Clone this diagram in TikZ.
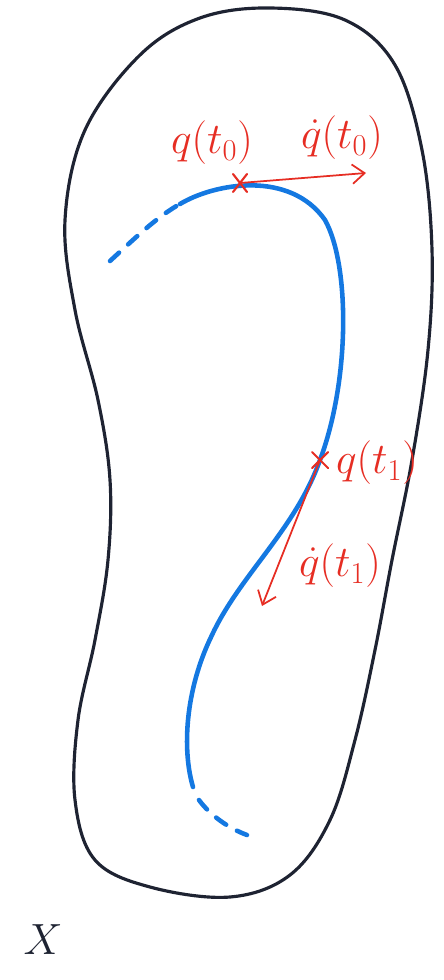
\documentclass[tikz,border=0pt]{standalone}
\usepackage{amsmath,amssymb}
\usetikzlibrary{arrows.meta,positioning}

\definecolor{curveblue}{RGB}{20,120,225}
\definecolor{penred}{RGB}{230,45,35}
\definecolor{inkdark}{RGB}{30,35,50}

\tikzset{
  outline/.style={inkdark,line width=1.8pt,line join=round},
  curve/.style={curveblue,line width=2.6pt,line cap=round},
  dashcurve/.style={curve,dash pattern=on 7pt off 7pt},
  vec/.style={penred,line width=1pt,-{Straight Barb[length=7pt,width=11pt]}},
  crossmark/.style={penred,line width=1.2pt,line cap=round},
  lbl/.style={penred,inner sep=1pt,font=\fontsize{23}{26}\selectfont}
}

\begin{document}
\begin{tikzpicture}[x=0.02cm,y=-0.02cm]
        \useasboundingbox (0,0) rectangle (443,980);
        % the region X
        \draw[outline] plot[smooth cycle,tension=0.6] coordinates {
          (270,8) (345,20) (395,65) (422,150) (432,250)
          (428,350) (412,460) (392,560) (375,650)
          (355,740) (330,820) (290,875) (230,897)
          (150,887) (95,860) (75,800) (78,720)
          (95,640) (108,560) (110,480) (98,400)
          (75,310) (65,220) (85,130) (140,55) (200,18)};
        % the path q
        \draw[dashcurve] (110,261) .. controls (135,238) and (158,216) .. (180,204);
        \draw[curve] (180,204) .. controls (215,183) and (290,170) .. (325,220)
          .. controls (350,265) and (350,380) .. (320,460)
          .. controls (295,530) and (240,575) .. (212,635)
          .. controls (185,690) and (182,750) .. (193,787);
        \draw[dashcurve] (199,800) .. controls (210,815) and (228,828) .. (247,835);
        % points and velocities
        \coordinate (q0) at (240,183);
        \coordinate (q1) at (320,460);
        \draw[crossmark] (q0) +(-7,-9) -- +(7,9) (q0) +(7,-9) -- +(-7,9);
        \draw[crossmark] (q1) +(-8,-8) -- +(8,8) (q1) +(8,-8) -- +(-8,8);
        \coordinate (v0) at (366,173);
        \coordinate (v1) at (262,606);
        \draw[vec] (q0) -- (v0);
        \draw[vec] (q1) -- (v1);
        \node[lbl] (l0) at (212,143) {$q(t_0)$};
        \node[lbl] (d0) at (342,138) {$\dot q(t_0)$};
        \node[lbl] (l1) at (377,463) {$q(t_1)$};
        \node[lbl] (d1) at (340,566) {$\dot q(t_1)$};
        \node[inkdark,font=\fontsize{44}{46}\selectfont] (X) at (43,940) {$X$};
\end{tikzpicture}
\end{document}
